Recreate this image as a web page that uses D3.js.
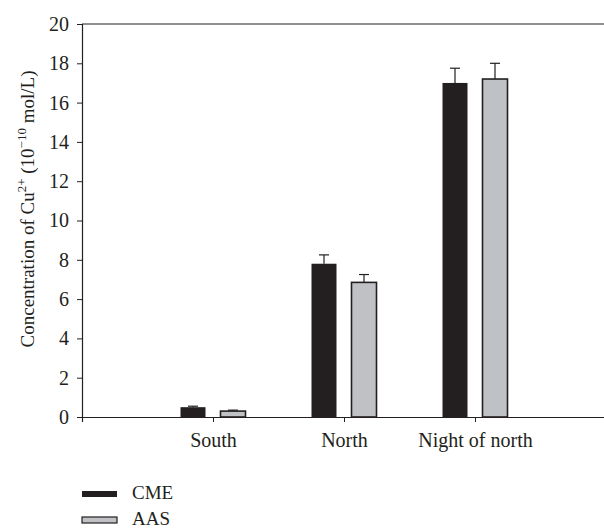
<!DOCTYPE html>
<html>
<head>
<meta charset="utf-8">
<script src="https://cdn.jsdelivr.net/npm/d3@7"></script>
<style>
body { margin: 0; background: #fff; }
text { font-family: "Liberation Serif", "DejaVu Serif", serif; fill: #231f20; }
</style>
</head>
<body>
<svg id="chart" width="604" height="529"></svg>
<script>
// data
var sites = ["South", "North", "Night of north"];
var seriesNames = ["CME", "AAS"];
var cmeValues = [0.5, 7.8, 17.0];
var cmeErrors = [0.05, 0.45, 0.75];
var aasValues = [0.3, 6.85, 17.2];
var aasErrors = [0.05, 0.4, 0.8];
var yTicks = [0, 2, 4, 6, 8, 10, 12, 14, 16, 18, 20];

var svg = d3.select("#chart");
var ink = "#231f20", grey = "#c0c1c4";
var fs = "20px";

var y = d3.scaleLinear().domain([0, 20]).range([417, 24]);
// categories sit at 1,2,3 on a 0..4 axis
var x = d3.scaleLinear().domain([0, 4]).range([82, 606]);
var barW = 25, offset = 20;

var series = [
	{name: seriesNames[0], vals: cmeValues, errs: cmeErrors, fill: ink, dx: -offset},
	{name: seriesNames[1], vals: aasValues, errs: aasErrors, fill: grey, dx: offset}
];

// frame: top line + left axis
svg.append("line").attr("x1", 82).attr("x2", 604).attr("y1", y(20)).attr("y2", y(20))
	.attr("stroke", ink).attr("stroke-width", 1.2);

var yAxis = svg.append("g").attr("transform", "translate(82,0)")
	.call(d3.axisLeft(y).tickValues(yTicks).tickSize(5).tickPadding(8));
yAxis.select(".domain").attr("stroke", ink).attr("stroke-width", 1.2);
yAxis.selectAll(".tick line").attr("stroke", ink);
yAxis.selectAll(".tick text").style("font-size", fs).style("font-family", "Liberation Serif").attr("fill", ink);

// bars
series.forEach(function(s) {
	var g = svg.append("g");
	g.selectAll("rect").data(s.vals).enter().append("rect")
		.attr("x", function(d, i) { return x(i + 1) + s.dx - barW / 2; })
		.attr("y", function(d) { return y(d); })
		.attr("width", barW)
		.attr("height", function(d) { return y(0) - y(d); })
		.attr("fill", s.fill)
		.attr("stroke", ink)
		.attr("stroke-width", s.fill == ink ? 0 : 1.6);
	// upper error bars only
	s.vals.forEach(function(d, i) {
		var cx = x(i + 1) + s.dx;
		g.append("line").attr("x1", cx).attr("x2", cx).attr("y1", y(d)).attr("y2", y(d + s.errs[i]))
			.attr("stroke", ink).attr("stroke-width", 1.2);
		g.append("line").attr("x1", cx - 5).attr("x2", cx + 5)
			.attr("y1", y(d + s.errs[i])).attr("y2", y(d + s.errs[i]))
			.attr("stroke", ink).attr("stroke-width", 1.2);
	});
});

// x axis
var xAxis = svg.append("g").attr("transform", "translate(0," + y(0) + ")")
	.call(d3.axisBottom(x).tickValues([1, 2, 3]).tickSize(5).tickPadding(11)
		.tickFormat(function(d) { return sites[d - 1]; }));
xAxis.select(".domain").attr("stroke", ink).attr("stroke-width", 1.2);
xAxis.selectAll(".tick line").attr("stroke", ink);
xAxis.selectAll(".tick text").style("font-size", fs).style("font-family", "Liberation Serif").attr("fill", ink);

// y label
var lab = svg.append("text")
	.attr("transform", "translate(34,209) rotate(-90)")
	.attr("text-anchor", "middle")
	.style("font-size", "19px");
lab.append("tspan").text("Concentration of Cu");
lab.append("tspan").attr("dy", -8).style("font-size", "13px").text("2+");
lab.append("tspan").attr("dy", 8).text(" (10");
lab.append("tspan").attr("dy", -8).style("font-size", "13px").text("\u221210");
lab.append("tspan").attr("dy", 8).text(" mol/L)");

// legend
var leg = svg.append("g");
series.forEach(function(s, i) {
	var ly = 494 + i * 26;
	leg.append("rect").attr("x", 82).attr("y", ly - 3).attr("width", 35).attr("height", 6)
		.attr("fill", s.fill).attr("stroke", ink).attr("stroke-width", s.fill == ink ? 0 : 1.2);
	leg.append("text").attr("x", 132).attr("y", ly + 5).style("font-size", "19px").text(s.name);
});
</script>
</body>
</html>
